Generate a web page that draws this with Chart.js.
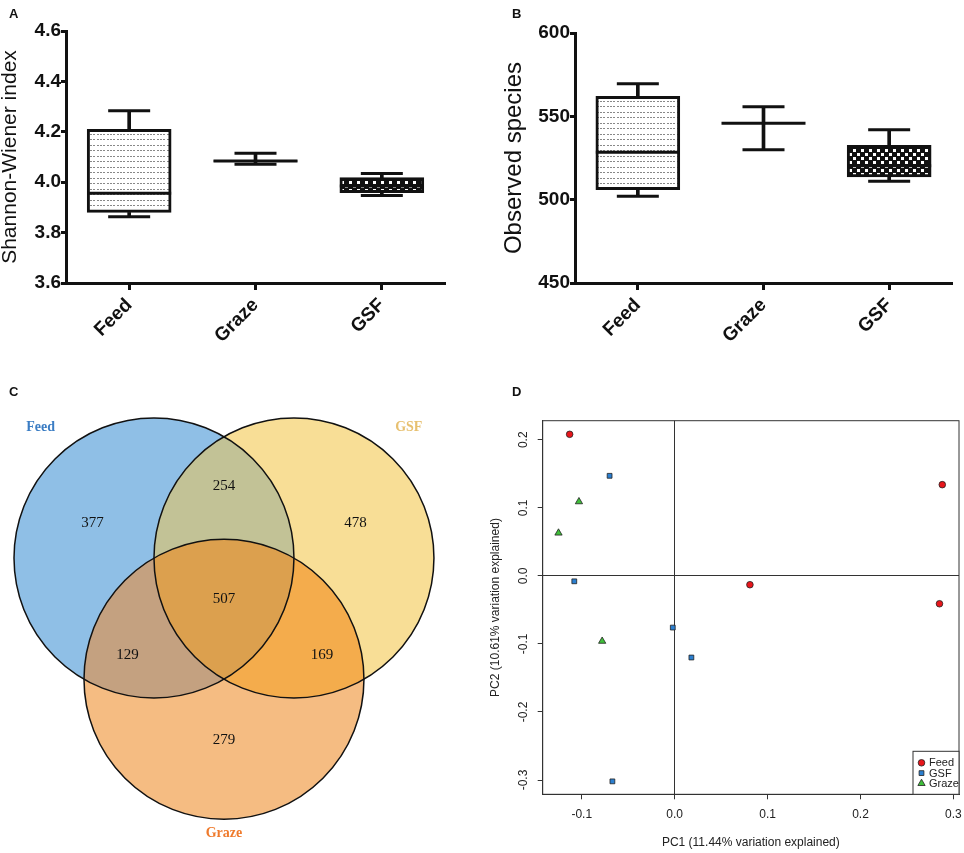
<!DOCTYPE html>
<html>
<head>
<meta charset="utf-8">
<script src="https://cdn.jsdelivr.net/npm/chart.js@4.4.1/dist/chart.umd.min.js"></script>
<style>
  body { margin: 0; background: #fff; }
  #page { position: relative; width: 964px; height: 853px; }
  canvas { position: absolute; }
  .tag { position: absolute; font: bold 13px "Liberation Sans", Arial, sans-serif; line-height: 1; color: #111; }
</style>
</head>
<body>
<div id="page">
  <canvas id="chartA" width="480" height="370" style="left:0;top:0;width:480px;height:370px"></canvas>
  <canvas id="chartB" width="484" height="370" style="left:480px;top:0;width:484px;height:370px"></canvas>
  <canvas id="chartC" width="480" height="473" style="left:0;top:380px;width:480px;height:473px"></canvas>
  <canvas id="chartD" width="484" height="473" style="left:480px;top:380px;width:484px;height:473px"></canvas>
  <div class="tag" style="left:9px;top:7px">A</div>
  <div class="tag" style="left:512px;top:7px">B</div>
  <div class="tag" style="left:9px;top:385px">C</div>
  <div class="tag" style="left:512px;top:385px">D</div>
</div>
<script>
// ---- data ----
const groups = ['Feed', 'Graze', 'GSF'];

// A: Shannon-Wiener index (min, q1, median, q3, max per group)
const shannonMin = [3.863, 4.071, 3.947];
const shannonQ1 = [3.880, 4.083, 3.958];
const shannonMedian = [3.956, 4.084, 3.985];
const shannonQ3 = [4.210, 4.085, 4.018];
const shannonMax = [4.284, 4.115, 4.035];

// B: Observed species
const observedMin = [502, 530, 511];
const observedQ1 = [506, 545.8, 513.6];
const observedMedian = [528.4, 545.8, 520.4];
const observedQ3 = [562, 545.8, 532.6];
const observedMax = [569.6, 555.8, 542];

// C: Venn counts
const vennSets = ['Feed', 'GSF', 'Graze'];
const vennRegions = ['Feed', 'Feed+GSF', 'GSF', 'Feed+Graze', 'Feed+GSF+Graze', 'GSF+Graze', 'Graze'];
const vennCounts = [377, 254, 478, 129, 507, 169, 279];

// D: PCoA scores
const pcoaFeedX = [-0.113, 0.288, 0.081, 0.285];
const pcoaFeedY = [0.208, 0.134, -0.013, -0.041];
const pcoaGsfX = [-0.070, -0.108, -0.002, 0.018, -0.067];
const pcoaGsfY = [0.147, -0.008, -0.076, -0.120, -0.302];
const pcoaGrazeX = [-0.103, -0.125, -0.078];
const pcoaGrazeY = [0.109, 0.063, -0.096];

const SANS = '"Liberation Sans", Arial, sans-serif';
const SERIF = '"Liberation Serif", "Times New Roman", serif';
const INK = '#111';

// fill patterns for the boxes
function dotPattern() {
    const c = document.createElement('canvas');
    c.width = 10; c.height = 11;
    const g = c.getContext('2d');
    g.fillStyle = '#fff';
    g.fillRect(0, 0, 10, 11);
    g.fillStyle = '#888';
    for (const y of [2, 7]) {
        for (const x of [0, 3, 7]) g.fillRect(x, y, 2, 1);
    }
    return g.createPattern(c, 'repeat');
}

function checkerPattern() {
    const c = document.createElement('canvas');
    c.width = 8; c.height = 8;
    const g = c.getContext('2d');
    g.fillStyle = '#111';
    g.fillRect(0, 0, 8, 8);
    g.fillStyle = '#fff';
    g.fillRect(1, 1, 3, 3);
    g.fillRect(5, 5, 3, 3);
    return g.createPattern(c, 'repeat');
}

const boxFills = [dotPattern(), '#fff', checkerPattern()];

/**
 * Box plot made of floating bars (box + whisker stems) and
 * line-style points (caps and medians).
 */
function buildBoxChart(id, mins, q1s, meds, q3s, maxs, yCfg, area) {
    const span = (a, b) => a.map((v, i) => [v, b[i]]);
    const mark = (data, half) => ({
        type: 'line', data: data, showLine: false, pointStyle: 'line',
        pointRadius: half, pointHoverRadius: half, pointBorderWidth: 3,
        pointBorderColor: INK, pointBackgroundColor: INK, order: 0
    });

    new Chart(document.getElementById(id), {
        type: 'bar',
        data: {
            labels: groups,
            datasets: [
                { data: span(q1s, q3s), backgroundColor: boxFills, borderColor: INK, borderWidth: 3,
                  borderSkipped: false, barThickness: 84, grouped: false, order: 5 },
                { data: span(q3s, maxs), backgroundColor: INK, barThickness: 3, grouped: false, order: 1 },
                { data: span(mins, q1s), backgroundColor: INK, barThickness: 3, grouped: false, order: 1 },
                mark(maxs, 21),
                mark(mins, 21),
                mark(meds, 42)
            ]
        },
        options: {
            responsive: false,
            animation: false,
            layout: { padding: area.padding, autoPadding: false },
            plugins: { legend: { display: false }, tooltip: { enabled: false } },
            scales: {
                x: {
                    offset: true,
                    grid: { offset: false, drawOnChartArea: false, tickLength: 7, tickWidth: 3, tickColor: INK },
                    border: { color: INK, width: 3 },
                    ticks: { minRotation: 45, maxRotation: 45, padding: 4, color: INK,
                             font: { family: SANS, size: 19, weight: 'bold' } },
                    afterFit: s => { s.height = area.xHeight; }
                },
                y: {
                    min: yCfg.min,
                    max: yCfg.max,
                    ticks: { stepSize: yCfg.step, padding: 0, color: INK,
                             font: { family: SANS, size: 19, weight: 'bold' },
                             callback: yCfg.format },
                    grid: { drawOnChartArea: false, tickLength: 5, tickWidth: 3, tickColor: INK },
                    border: { color: INK, width: 3 },
                    title: { display: true, text: yCfg.title, color: INK,
                             font: { family: SANS, size: yCfg.titleSize, lineHeight: 1 },
                             padding: { top: yCfg.titlePad, bottom: 0 } },
                    afterFit: s => { s.width = area.yWidth; }
                }
            }
        }
    });
}

buildBoxChart('chartA', shannonMin, shannonQ1, shannonMedian, shannonQ3, shannonMax,
    { min: 3.6, max: 4.6, step: 0.2, format: v => v.toFixed(1),
      title: 'Shannon-Wiener index', titleSize: 21, titlePad: 0 },
    { padding: { left: 0, top: 31, right: 35, bottom: 0 }, yWidth: 66, xHeight: 87 });

buildBoxChart('chartB', observedMin, observedQ1, observedMedian, observedQ3, observedMax,
    { min: 450, max: 600, step: 50, format: v => v,
      title: 'Observed species', titleSize: 24, titlePad: 22 },
    { padding: { left: 0, top: 33, right: 12, bottom: 0 }, yWidth: 95, xHeight: 87 });

// ---- C: Venn ----
// unit layout: three circles of radius 1, centres one radius apart
const vennCircles = [[-0.5, 0], [0.5, 0], [0, -0.866]];
const vennRadius = 1;
const vennBase = ['#8fbfe6', '#f8de96', '#f5bc82'];
const vennRegionAnchors = [[-0.94, 0.25], [0, 0.51], [0.94, 0.25], [-0.69, -0.69], [0, -0.29], [0.70, -0.69], [0, -1.30]];
const vennSetAnchors = [[-1.31, 0.93], [1.32, 0.93], [0, -1.97]];
const vennSetColors = ['#3b7dc4', '#e7c070', '#ef7a2c'];

const vennPlugin = {
    id: 'venn',
    afterDraw(chart) {
        const ctx = chart.ctx;
        const sx = chart.scales.x, sy = chart.scales.y;
        const rPx = sx.getPixelForValue(vennRadius) - sx.getPixelForValue(0);
        const circle = i => {
            ctx.beginPath();
            ctx.arc(sx.getPixelForValue(vennCircles[i][0]), sy.getPixelForValue(vennCircles[i][1]), rPx, 0, Math.PI * 2);
        };
        const fillWithin = (clips, target, color) => {
            ctx.save();
            for (const c of clips) { circle(c); ctx.clip(); }
            circle(target);
            ctx.fillStyle = color;
            ctx.fill();
            ctx.restore();
        };

        ctx.save();
        vennBase.forEach((col, i) => { circle(i); ctx.fillStyle = col; ctx.fill(); });
        fillWithin([0], 1, '#c2c296');
        fillWithin([0], 2, '#c4a180');
        fillWithin([1], 2, '#f4ac4c');
        fillWithin([0, 1], 2, '#dca04e');
        ctx.strokeStyle = INK;
        ctx.lineWidth = 1.5;
        vennSets.forEach((s, i) => { circle(i); ctx.stroke(); });

        ctx.textAlign = 'center';
        ctx.textBaseline = 'middle';
        ctx.fillStyle = INK;
        ctx.font = '15px ' + SERIF;
        vennCounts.forEach((n, i) => {
            const [ax, ay] = vennRegionAnchors[i];
            ctx.fillText(String(n), sx.getPixelForValue(ax), sy.getPixelForValue(ay));
        });
        ctx.font = 'bold 14px ' + SERIF;
        vennSets.forEach((s, i) => {
            const [ax, ay] = vennSetAnchors[i];
            ctx.fillStyle = vennSetColors[i];
            ctx.fillText(s, sx.getPixelForValue(ax), sy.getPixelForValue(ay));
        });
        ctx.restore();
    }
};

new Chart(document.getElementById('chartC'), {
    type: 'scatter',
    data: { datasets: [] },
    plugins: [vennPlugin],
    options: {
        responsive: false,
        animation: false,
        layout: { padding: 0, autoPadding: false },
        plugins: { legend: { display: false }, tooltip: { enabled: false } },
        scales: {
            x: { display: false, min: -1.6, max: 1.829 },
            y: { display: false, min: -2.107, max: 1.271 }
        }
    }
});

// ---- D: PCoA ----
const points = (xs, ys) => xs.map((x, i) => ({ x: x, y: ys[i] }));
const fmt1 = v => Math.abs(v) < 1e-9 ? '0.0' : v.toFixed(1);

const frameAndLegend = {
    id: 'frameAndLegend',
    afterDraw(chart) {
        const { ctx, chartArea: a } = chart;
        ctx.save();
        ctx.strokeStyle = '#333';
        ctx.lineWidth = 1;
        ctx.strokeRect(a.left, a.top, a.right - a.left, a.bottom - a.top);

        // legend box, bottom right inside plot
        const w = 46, h = 43;
        const x0 = a.right - w, y0 = a.bottom - h;
        ctx.fillStyle = '#fff';
        ctx.fillRect(x0, y0, w, h);
        ctx.strokeRect(x0, y0, w, h);
        ctx.font = '11px ' + SANS;
        ctx.textBaseline = 'middle';
        chart.data.datasets.forEach((ds, i) => {
            const y = y0 + 11.5 + i * 10.3;
            ctx.fillStyle = ds.backgroundColor;
            ctx.strokeStyle = ds.borderColor;
            ctx.lineWidth = ds.borderWidth;
            Chart.helpers.drawPoint(ctx, { pointStyle: ds.pointStyle, radius: ds.pointRadius, borderWidth: ds.borderWidth }, x0 + 8.5, y);
            ctx.fillStyle = '#222';
            ctx.fillText(ds.label, x0 + 16, y + 0.5);
        });
        ctx.restore();
    }
};

new Chart(document.getElementById('chartD'), {
    type: 'scatter',
    data: {
        datasets: [
            { label: 'Feed', data: points(pcoaFeedX, pcoaFeedY), pointStyle: 'circle', pointRadius: 3.3,
              backgroundColor: '#e8161b', borderColor: '#222', borderWidth: 0.8 },
            { label: 'GSF', data: points(pcoaGsfX, pcoaGsfY), pointStyle: 'rect', pointRadius: 3.4,
              backgroundColor: '#2b7fd0', borderColor: '#222', borderWidth: 0.8 },
            { label: 'Graze', data: points(pcoaGrazeX, pcoaGrazeY), pointStyle: 'triangle', pointRadius: 4.2,
              backgroundColor: '#3fbf3a', borderColor: '#222', borderWidth: 0.8 }
        ]
    },
    plugins: [frameAndLegend],
    options: {
        responsive: false,
        animation: false,
        layout: { padding: { left: 0, top: 40.7, right: 5, bottom: 0 }, autoPadding: false },
        plugins: { legend: { display: false }, tooltip: { enabled: false } },
        scales: {
            x: {
                min: -0.142, max: 0.306,
                ticks: { stepSize: 0.1, includeBounds: false, padding: 8, color: '#222',
                         font: { family: SANS, size: 12 }, callback: fmt1 },
                grid: { color: c => Math.abs(c.tick.value) < 1e-9 ? '#333' : 'rgba(0,0,0,0)',
                        tickColor: '#333', tickLength: 5 },
                border: { color: '#333', width: 1 },
                title: { display: true, text: 'PC1 (11.44% variation explained)', color: '#222',
                         font: { family: SANS, size: 12, lineHeight: 1.2 }, padding: { top: 0, bottom: 3 } },
                afterFit: s => { s.height = 58.7; s.paddingLeft = 0; s.paddingRight = 0; }
            },
            y: {
                min: -0.321, max: 0.228,
                ticks: { stepSize: 0.1, includeBounds: false, padding: 4, color: '#222',
                         minRotation: 90, maxRotation: 90, crossAlign: 'center',
                         font: { family: SANS, size: 12 }, callback: fmt1 },
                grid: { color: c => Math.abs(c.tick.value) < 1e-9 ? '#333' : 'rgba(0,0,0,0)',
                        tickColor: '#333', tickLength: 5 },
                border: { color: '#333', width: 1 },
                title: { display: true, text: 'PC2 (10.61% variation explained)', color: '#222',
                         font: { family: SANS, size: 12, lineHeight: 1.2 }, padding: { top: 8, bottom: 0 } },
                afterFit: s => { s.width = 62.7; s.paddingTop = 0; s.paddingBottom = 0; }
            }
        }
    }
});
</script>
</body>
</html>
